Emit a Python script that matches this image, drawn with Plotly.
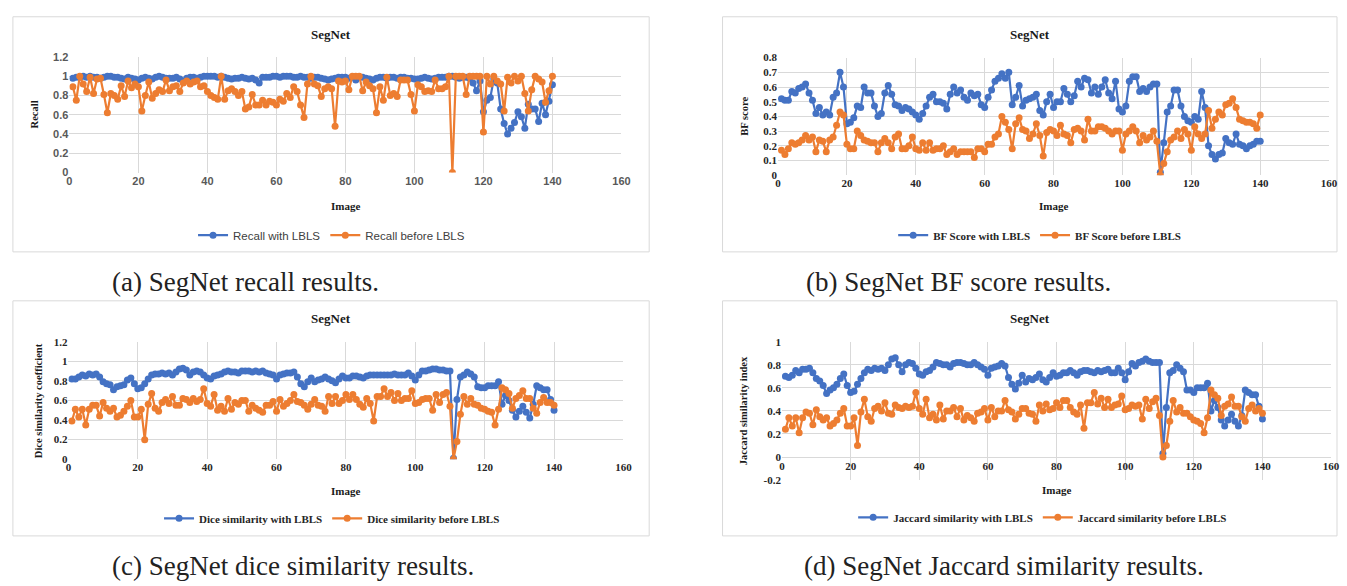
import plotly.graph_objects as go

W, H = 1347, 586

# ---------------- data ----------------
recall_with = [
    0.98, 0.99, 0.99, 1.0, 0.99, 1.0, 0.99, 0.99, 0.98, 0.99,
    1.0, 1.0, 0.99, 0.99, 0.98, 0.97, 0.99, 0.98, 0.97, 0.96,
    0.98, 0.99, 0.98, 0.97, 0.99, 1.0, 0.99, 0.98, 0.98, 0.98,
    0.99, 0.97, 0.95, 0.98, 0.99, 0.99, 0.98, 0.99, 1.0, 1.0,
    1.0, 1.0, 0.99, 1.0, 0.99, 0.98, 0.97, 0.98, 0.98, 0.99,
    0.98, 0.97, 0.98, 0.96, 0.93, 0.99, 0.99, 0.99, 1.0, 1.0,
    0.99, 1.0, 1.0, 1.0, 0.99, 0.99, 1.0, 0.99, 0.99, 0.98,
    0.99, 0.99, 0.98, 0.97, 0.96, 0.97, 0.98, 0.99, 0.99, 0.99,
    0.98, 0.99, 0.96, 0.99, 0.99, 0.98, 0.97, 0.96, 0.98, 0.99,
    0.99, 0.98, 0.99, 0.99, 0.98, 0.99, 0.99, 0.98, 0.98, 0.97,
    0.97, 0.98, 0.99, 0.98, 0.97, 0.98, 0.99, 0.99, 0.99, 1.0,
    1.0, 0.99, 0.98, 0.99, 0.99, 0.98, 0.93, 0.85, 0.95, 0.63,
    0.75, 0.78, 0.97, 0.93, 0.66, 0.51, 0.40, 0.46, 0.52, 0.63,
    0.58, 0.46, 0.71, 0.66, 0.66, 0.53, 0.72, 0.60, 0.74, 0.91,
]
recall_before = [
    0.89, 0.75, 1.0, 0.92, 0.84, 0.99, 0.82, 0.97, 0.98, 0.81,
    0.62, 0.82, 0.80, 0.76, 0.90, 0.79, 0.95, 0.88, 0.92, 0.89,
    0.64, 0.80, 0.94, 0.77, 0.82, 0.86, 0.84, 0.96, 0.85, 0.89,
    0.90, 0.84, 0.93, 0.95, 0.92, 0.94, 0.95, 0.89, 0.90, 0.84,
    0.80, 0.78, 0.76, 1.0, 0.76, 0.85, 0.87, 0.84, 0.80, 0.84,
    0.66, 0.68, 0.81, 0.70, 0.70, 0.75, 0.70, 0.74, 0.73, 0.70,
    0.76, 0.74, 0.82, 0.78, 0.89, 0.84, 0.70, 0.57, 0.92, 1.0,
    0.92, 0.90, 0.79, 0.87, 0.89, 0.87, 0.48, 0.95, 0.94, 0.95,
    0.86, 1.0, 1.0, 1.0, 0.85, 0.94, 0.90, 0.87, 0.62, 0.89,
    0.75, 0.99, 0.80, 0.82, 0.79, 0.96, 0.96, 0.96, 0.81, 0.64,
    0.91, 0.89, 0.84, 0.85, 0.84, 0.96, 0.87, 0.87, 0.89, 1.0,
    0.0, 1.0, 1.0, 1.0, 0.81, 1.0, 1.0, 1.0, 1.0, 0.42,
    1.0, 0.92, 1.0, 0.95, 0.92, 0.64, 0.99, 0.93, 1.0, 0.95,
    1.0, 0.82, 0.64, 0.86, 1.0, 0.97, 0.94, 0.73, 0.85, 1.0,
]
bf_with = [
    0.52, 0.51, 0.51, 0.57, 0.56, 0.59, 0.60, 0.62, 0.56, 0.51,
    0.42, 0.46, 0.41, 0.43, 0.41, 0.53, 0.56, 0.70, 0.60, 0.35,
    0.36, 0.39, 0.47, 0.46, 0.60, 0.56, 0.56, 0.47, 0.40, 0.42,
    0.56, 0.61, 0.55, 0.48, 0.47, 0.44, 0.46, 0.45, 0.43, 0.41,
    0.38, 0.42, 0.47, 0.53, 0.55, 0.50, 0.50, 0.49, 0.45, 0.55,
    0.60, 0.56, 0.58, 0.53, 0.51, 0.56, 0.54, 0.55, 0.48, 0.46,
    0.53, 0.58, 0.64, 0.66, 0.69, 0.66, 0.70, 0.48, 0.53, 0.61,
    0.47, 0.51, 0.52, 0.53, 0.55, 0.44, 0.41, 0.50, 0.55, 0.46,
    0.50, 0.50, 0.59, 0.55, 0.50, 0.54, 0.64, 0.60, 0.66, 0.65,
    0.56, 0.60, 0.55, 0.60, 0.65, 0.56, 0.52, 0.64, 0.45, 0.43,
    0.47, 0.64, 0.67, 0.67, 0.57, 0.59, 0.57, 0.60, 0.62, 0.62,
    0.02, 0.22, 0.43, 0.47, 0.58, 0.58, 0.47, 0.40, 0.37, 0.36,
    0.40, 0.38, 0.57, 0.46, 0.20, 0.14, 0.11, 0.14, 0.15, 0.25,
    0.22, 0.21, 0.28, 0.21, 0.20, 0.18, 0.20, 0.21, 0.23, 0.23,
]
bf_before = [
    0.17, 0.14, 0.18, 0.22, 0.21, 0.22, 0.24, 0.27, 0.24, 0.26,
    0.16, 0.24, 0.23, 0.16, 0.24, 0.26, 0.34, 0.43, 0.41, 0.21,
    0.18, 0.18, 0.30, 0.27, 0.24, 0.23, 0.22, 0.22, 0.16, 0.22,
    0.25, 0.22, 0.18, 0.26, 0.28, 0.18, 0.18, 0.20, 0.26, 0.18,
    0.17, 0.22, 0.17, 0.22, 0.17, 0.18, 0.18, 0.20, 0.14, 0.16,
    0.18, 0.14, 0.16, 0.16, 0.16, 0.16, 0.12, 0.18, 0.18, 0.16,
    0.21, 0.21, 0.26, 0.28, 0.40, 0.36, 0.31, 0.18, 0.35, 0.39,
    0.31, 0.30, 0.25, 0.28, 0.35, 0.27, 0.13, 0.29, 0.31, 0.30,
    0.27, 0.34, 0.28, 0.27, 0.22, 0.31, 0.32, 0.30, 0.24, 0.38,
    0.30, 0.30, 0.33, 0.33, 0.32, 0.30, 0.28, 0.30, 0.30, 0.17,
    0.28, 0.30, 0.33, 0.30, 0.22, 0.27, 0.24, 0.26, 0.30, 0.23,
    0.0, 0.08, 0.16, 0.24, 0.26, 0.30, 0.25, 0.31, 0.28, 0.17,
    0.33, 0.28, 0.25, 0.28, 0.44, 0.32, 0.38, 0.43, 0.41, 0.48,
    0.49, 0.52, 0.46, 0.38, 0.37, 0.36, 0.36, 0.35, 0.32, 0.41,
]
dice_with = [
    0.82, 0.82, 0.84, 0.86, 0.85, 0.87, 0.86, 0.87, 0.84, 0.79,
    0.77, 0.76, 0.71, 0.74, 0.75, 0.76, 0.81, 0.83, 0.77, 0.72,
    0.73, 0.77, 0.82, 0.86, 0.87, 0.87, 0.88, 0.87, 0.88, 0.86,
    0.89, 0.92, 0.93, 0.91, 0.86, 0.89, 0.90, 0.89, 0.86, 0.83,
    0.82, 0.85, 0.86, 0.87, 0.89, 0.90, 0.89, 0.89, 0.88, 0.90,
    0.90, 0.90, 0.89, 0.90, 0.89, 0.90, 0.88, 0.87, 0.86, 0.82,
    0.86, 0.87, 0.88, 0.88, 0.89, 0.84, 0.77, 0.74, 0.79, 0.83,
    0.79, 0.81, 0.82, 0.84, 0.82, 0.80, 0.78, 0.82, 0.85, 0.83,
    0.83, 0.85, 0.85, 0.84, 0.83, 0.85, 0.86, 0.86, 0.86, 0.86,
    0.86, 0.86, 0.86, 0.87, 0.86, 0.86, 0.86, 0.88, 0.85, 0.81,
    0.86, 0.90, 0.90, 0.91, 0.92, 0.92, 0.91, 0.91, 0.90, 0.90,
    0.01, 0.61, 0.84, 0.86, 0.89, 0.87, 0.84, 0.74, 0.73, 0.73,
    0.75, 0.75, 0.75, 0.79, 0.56, 0.65, 0.60, 0.50, 0.43, 0.49,
    0.54, 0.48, 0.42, 0.56, 0.75, 0.73, 0.71, 0.71, 0.61, 0.50,
]
dice_before = [
    0.39, 0.51, 0.43, 0.51, 0.35, 0.51, 0.55, 0.55, 0.44, 0.58,
    0.52, 0.49, 0.52, 0.43, 0.45, 0.49, 0.54, 0.60, 0.43, 0.43,
    0.51, 0.20, 0.56, 0.67, 0.52, 0.49, 0.58, 0.61, 0.57, 0.64,
    0.55, 0.55, 0.62, 0.61, 0.58, 0.62, 0.59, 0.61, 0.72, 0.57,
    0.54, 0.66, 0.50, 0.54, 0.49, 0.62, 0.51, 0.58, 0.56, 0.60,
    0.60, 0.49, 0.55, 0.52, 0.50, 0.48, 0.55, 0.55, 0.59, 0.49,
    0.61, 0.54, 0.57, 0.60, 0.66, 0.59, 0.58, 0.55, 0.51, 0.56,
    0.61, 0.55, 0.54, 0.49, 0.64, 0.57, 0.64, 0.57, 0.60, 0.66,
    0.61, 0.66, 0.61, 0.56, 0.53, 0.62, 0.57, 0.39, 0.64, 0.64,
    0.72, 0.64, 0.68, 0.60, 0.67, 0.60, 0.62, 0.62, 0.70, 0.57,
    0.58, 0.61, 0.62, 0.62, 0.50, 0.66, 0.58, 0.66, 0.68, 0.54,
    0.0, 0.18, 0.46, 0.64, 0.56, 0.62, 0.56, 0.55, 0.52, 0.51,
    0.49, 0.48, 0.35, 0.51, 0.73, 0.71, 0.67, 0.52, 0.62, 0.65,
    0.70, 0.62, 0.62, 0.52, 0.47, 0.58, 0.63, 0.58, 0.58, 0.55,
]
jacc_with = [
    0.70, 0.69, 0.71, 0.75, 0.73, 0.76, 0.76, 0.77, 0.73, 0.68,
    0.66, 0.62, 0.55, 0.58, 0.60, 0.63, 0.68, 0.72, 0.62, 0.56,
    0.57, 0.63, 0.68, 0.73, 0.76, 0.75, 0.77, 0.76, 0.77, 0.75,
    0.80, 0.85, 0.86, 0.80, 0.74, 0.80, 0.82, 0.81, 0.77, 0.72,
    0.71, 0.74, 0.75, 0.78, 0.82, 0.81, 0.80, 0.80, 0.78, 0.81,
    0.82, 0.82, 0.81, 0.80, 0.80, 0.82, 0.80, 0.78, 0.76, 0.71,
    0.77, 0.78, 0.79, 0.81, 0.79, 0.69, 0.63, 0.59, 0.64, 0.71,
    0.65, 0.68, 0.67, 0.69, 0.72, 0.67, 0.65, 0.69, 0.73, 0.70,
    0.71, 0.73, 0.73, 0.75, 0.73, 0.71, 0.74, 0.75, 0.75, 0.74,
    0.73, 0.75, 0.74, 0.75, 0.76, 0.73, 0.73, 0.77, 0.73, 0.67,
    0.74, 0.81, 0.79, 0.82, 0.83, 0.85, 0.83, 0.82, 0.82, 0.82,
    0.03, 0.43, 0.73, 0.75, 0.80, 0.77, 0.74, 0.58, 0.58, 0.56,
    0.60, 0.60, 0.60, 0.64, 0.40, 0.49, 0.43, 0.32, 0.27, 0.32,
    0.37, 0.31, 0.27, 0.36, 0.58, 0.56, 0.54, 0.54, 0.44, 0.33,
]
jacc_before = [
    0.24, 0.34, 0.27, 0.34, 0.21, 0.34, 0.39, 0.38, 0.28, 0.41,
    0.35, 0.32, 0.34, 0.27, 0.29, 0.32, 0.38, 0.42, 0.27, 0.27,
    0.34, 0.10, 0.39, 0.50, 0.35, 0.31, 0.42, 0.44, 0.40, 0.47,
    0.38, 0.37, 0.45, 0.43, 0.42, 0.44, 0.43, 0.44, 0.56, 0.42,
    0.37, 0.50, 0.34, 0.37, 0.32, 0.45, 0.33, 0.40, 0.40, 0.43,
    0.35, 0.42, 0.32, 0.36, 0.34, 0.31, 0.38, 0.39, 0.42, 0.32,
    0.43, 0.35, 0.40, 0.40, 0.49, 0.41, 0.39, 0.33, 0.37, 0.42,
    0.42, 0.38, 0.37, 0.31, 0.45, 0.40, 0.46, 0.41, 0.42, 0.47,
    0.43, 0.49, 0.49, 0.43, 0.39, 0.37, 0.45, 0.25, 0.47, 0.47,
    0.56, 0.46, 0.51, 0.43, 0.50, 0.43, 0.45, 0.46, 0.53, 0.41,
    0.42, 0.45, 0.44, 0.45, 0.33, 0.50, 0.42, 0.48, 0.51, 0.36,
    0.0, 0.10, 0.31, 0.49, 0.39, 0.43, 0.38, 0.38, 0.35, 0.32,
    0.31, 0.29, 0.21, 0.34, 0.58, 0.54, 0.51, 0.36, 0.44, 0.46,
    0.52, 0.44, 0.44, 0.35, 0.31, 0.42, 0.45, 0.40, 0.42, 0.38,
]

x_ticks = [0, 20, 40, 60, 80, 100, 120, 140, 160]
y_ticks_a = [0, 0.2, 0.4, 0.6, 0.8, 1, 1.2]
y_ticks_b = [0, 0.1, 0.2, 0.3, 0.4, 0.5, 0.6, 0.7, 0.8]
y_ticks_d = [-0.2, 0, 0.2, 0.4, 0.6, 0.8, 1]
y_ticktext_d = ["-0.2", "0", "0.2", "0.4", "0.6", "0.8", "1"]

legend_names = [
    ("Recall with LBLS", "Recall before LBLS"),
    ("BF Score with LBLS", "BF Score before LBLS"),
    ("Dice similarity with LBLS", "Dice similarity before LBLS"),
    ("Jaccard similarity with LBLS", "Jaccard similarity before LBLS"),
]
y_titles = ["Recall", "BF score", "Dice similarity coefficient", "Jaccard similarity index"]
captions = ["(a) SegNet recall results.", "(b) SegNet BF score results.",
            "(c) SegNet dice similarity results.", "(d) SegNet Jaccard similarity results."]

BLUE = "#4472C4"
ORANGE = "#ED7D31"
GRID = "#d9d9d9"
SERIF = "Liberation Serif"
SANS = "Liberation Sans"


def px(x):
    return x / W


def py(y):
    return 1 - y / H


# panel geometry in pixels
panels = [
    dict(x0=67, x1=624, yt=52, yb=170, box=(10, 11, 652, 251), title_y=29, img_y=204,
         leg_y=234, ytx=32, cap=(108, 282), sans=True),
    dict(x0=782, x1=1338, yt=52.7, yb=172.7, box=(726, 11, 1346, 251), title_y=29, img_y=204,
         leg_y=234, ytx=748, cap=(808, 282), sans=False),
    dict(x0=66, x1=626, yt=342.7, yb=462.7, box=(10, 301, 652, 541), title_y=319, img_y=495,
         leg_y=523, ytx=36, cap=(108, 572), sans=False),
    dict(x0=786, x1=1340, yt=342.7, yb=484, box=(726, 301, 1346, 541), title_y=319, img_y=494,
         leg_y=522, ytx=748, cap=(806, 572), sans=False),
]
series = [
    (recall_with, recall_before),
    (bf_with, bf_before),
    (dice_with, dice_before),
    (jacc_with, jacc_before),
]
y_ranges = [[0, 1.2], [0, 0.8], [0, 1.2], [-0.2, 1]]
y_tickvals = [y_ticks_a, y_ticks_b, y_ticks_a, y_ticks_d]

fig = go.Figure()
layout = dict(width=W, height=H, autosize=False, margin=dict(l=0, r=0, t=0, b=0, pad=0),
              paper_bgcolor="white", plot_bgcolor="white", showlegend=True)
annotations = []
shapes = []

for k, (p, (s_with, s_before)) in enumerate(zip(panels, series)):
    n = k + 1
    xa = "x" if n == 1 else f"x{n}"
    ya = "y" if n == 1 else f"y{n}"
    leg = "legend" if n == 1 else f"legend{n}"
    if p["sans"]:
        tick_font = dict(family=SANS, size=11, color="#595959", weight="bold")
        leg_font = dict(family=SANS, size=11.5, color="#404040")
    else:
        tick_font = dict(family=SERIF, size=11, color="#262626", weight="bold")
        leg_font = dict(family=SERIF, size=11, color="#262626", weight="bold")

    for vals, color, name in ((s_with, BLUE, legend_names[k][0]), (s_before, ORANGE, legend_names[k][1])):
        fig.add_trace(go.Scatter(
            x=list(range(1, len(vals) + 1)), y=vals, mode="lines+markers", name=name,
            line=dict(color=color, width=2.2), marker=dict(color=color, size=7),
            xaxis=xa, yaxis=ya, legend=leg, hoverinfo="x+y"))

    xdict = dict(domain=[px(p["x0"]), px(p["x1"])], range=[0, 160], tickvals=x_ticks,
                 showgrid=True, gridcolor=GRID, gridwidth=1, zeroline=False, showline=False,
                 tickfont=tick_font, ticks="", fixedrange=True)
    if n == 4:
        xdict.update(anchor="free", position=py(461))
    else:
        xdict.update(anchor=ya)
    ydict = dict(domain=[py(p["yb"]), py(p["yt"])], range=y_ranges[k], tickvals=y_tickvals[k],
                 showgrid=True, gridcolor=GRID, gridwidth=1, zeroline=False, showline=False,
                 tickfont=tick_font, ticks="", anchor=xa, fixedrange=True)
    if n == 4:
        ydict["ticktext"] = y_ticktext_d
    layout["xaxis" if n == 1 else f"xaxis{n}"] = xdict
    layout["yaxis" if n == 1 else f"yaxis{n}"] = ydict

    bx0, by0, bx1, by1 = p["box"]
    cx = (bx0 + bx1) / 2
    layout[leg] = dict(orientation="h", x=px((p["x0"] + p["x1"]) / 2 - 14), y=py(p["leg_y"]),
                       xanchor="center", yanchor="middle", font=leg_font,
                       bgcolor="rgba(0,0,0,0)", itemwidth=30, tracegroupgap=0)

    shapes.append(dict(type="rect", xref="paper", yref="paper", x0=px(bx0), x1=px(bx1),
                       y0=py(by1), y1=py(by0), line=dict(color=GRID, width=1),
                       fillcolor="rgba(0,0,0,0)", layer="below"))
    annotations.append(dict(text="SegNet", x=px(cx), y=py(p["title_y"]), xref="paper", yref="paper",
                            showarrow=False, xanchor="center", yanchor="middle",
                            font=dict(family=SERIF, size=13, color="#1a1a1a", weight="bold")))
    annotations.append(dict(text="Image", x=px((p["x0"] + p["x1"]) / 2), y=py(p["img_y"]),
                            xref="paper", yref="paper", showarrow=False, xanchor="center",
                            yanchor="middle",
                            font=dict(family=SERIF, size=11, color="#1a1a1a", weight="bold")))
    annotations.append(dict(text=y_titles[k], x=px(p["ytx"]), y=py((p["yt"] + p["yb"]) / 2),
                            xref="paper", yref="paper", showarrow=False, xanchor="center",
                            yanchor="middle", textangle=-90,
                            font=dict(family=SERIF, size=10.5, color="#1a1a1a", weight="bold")))
    annotations.append(dict(text=captions[k], x=px(p["cap"][0]), y=py(p["cap"][1]),
                            xref="paper", yref="paper", showarrow=False, xanchor="left",
                            yanchor="middle", font=dict(family=SERIF, size=27, color="#222222")))

layout["annotations"] = annotations
layout["shapes"] = shapes
fig.update_layout(**layout)

pin_script = (
    "document.documentElement.style.margin='0';"
    "document.body.style.margin='0';document.body.style.overflow='hidden';"
    "var gd=document.getElementsByClassName('plotly-graph-div')[0];"
    "gd.style.position='fixed';gd.style.top='0px';gd.style.left='0px';"
)
fig.write_html("out.html", config={"displayModeBar": False}, post_script=pin_script)
